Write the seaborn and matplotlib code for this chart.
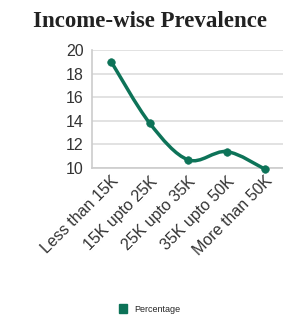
import matplotlib
matplotlib.use("Agg")
import matplotlib.pyplot as plt
import matplotlib.patches as mpatches
from matplotlib.path import Path
import seaborn as sns
import numpy as np

# === DATA ===
categories = ['Less than 15K', '15K upto 25K', '25K upto 35K', '35K upto 50K', 'More than 50K']
percentage = [19.0, 13.8, 10.7, 11.4, 9.9]
y_ticks = [10, 12, 14, 16, 18, 20]

COLOR = '#0d7358'

sns.set_style("white")
plt.rcParams['font.family'] = ['Liberation Sans', 'DejaVu Sans']

fig = plt.figure(figsize=(2.83, 3.16), dpi=100)
ax = fig.add_axes([0.325, 0.468, 0.68, 0.374])

x = np.arange(len(categories))
y = np.array(percentage)

# smooth line (Catmull-Rom as cubic bezier segments)
pts = np.column_stack([x, y]).astype(float)
ext = np.vstack([pts[0], pts, pts[-1]])
verts = [tuple(pts[0])]
codes = [Path.MOVETO]
for i in range(len(pts) - 1):
    p0, p1, p2, p3 = ext[i], ext[i + 1], ext[i + 2], ext[i + 3]
    c1 = p1 + (p2 - p0) / 6
    c2 = p2 - (p3 - p1) / 6
    verts += [tuple(c1), tuple(c2), tuple(p2)]
    codes += [Path.CURVE4, Path.CURVE4, Path.CURVE4]
ax.add_patch(mpatches.PathPatch(Path(verts, codes), facecolor='none',
                                edgecolor=COLOR, lw=2.5, zorder=3, clip_on=False))

sns.scatterplot(x=x, y=y, ax=ax, color=COLOR, s=30, edgecolor=COLOR,
                zorder=4, clip_on=False, legend=False)

ax.set_xlim(-0.5, len(categories) - 0.5)
ax.set_ylim(10, 20)
ax.set_yticks(y_ticks)
ax.set_yticklabels([str(t) for t in y_ticks], fontsize=11.5, color='#333333')
ax.set_xticks(x)
ax.set_xticklabels(categories, rotation=45, ha='right', rotation_mode='anchor',
                   fontsize=11.5, color='#333333')
ax.set_xticks(np.arange(-0.5, len(categories) - 0.5, 1), minor=True)
ax.tick_params(axis='x', which='major', length=0, pad=4)
ax.tick_params(axis='x', which='minor', length=5, color='#bbbbbb', width=1.2, direction='out')
ax.tick_params(axis='y', length=4, color='#dddddd', pad=2)
ax.grid(True, axis='y', color='#dddddd', lw=1.2)
for s in ['top', 'right']:
    ax.spines[s].set_visible(False)
for s in ['left', 'bottom']:
    ax.spines[s].set_color('#cccccc')
    ax.spines[s].set_linewidth(1.2)
ax.set_xlabel('')
ax.set_ylabel('')

fig.suptitle('Income-wise Prevalence', x=0.53, y=0.965, fontsize=16.5,
             fontweight='bold', family='Liberation Serif', color='#222222')

handle = mpatches.Patch(facecolor=COLOR, edgecolor=COLOR, label='Percentage')
fig.legend(handles=[handle], loc='lower center', bbox_to_anchor=(0.53, -0.018),
           frameon=False, fontsize=6.5, handlelength=0.9, handleheight=1.3,
           handletextpad=0.8)

fig.savefig('out.png', dpi=100)
